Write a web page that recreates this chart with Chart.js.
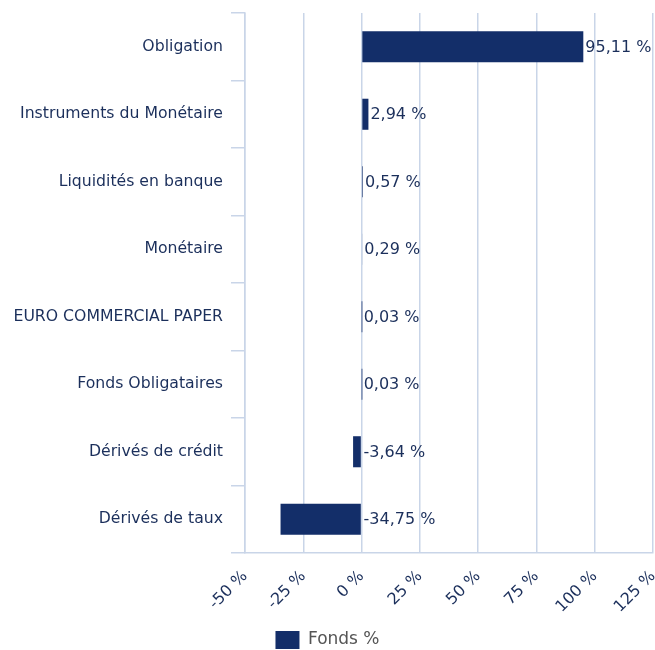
<!DOCTYPE html>
<html>
<head>
<meta charset="utf-8">
<script src="https://cdn.jsdelivr.net/npm/chart.js@4"></script>
<style>
  html, body { margin: 0; padding: 0; background: #ffffff; }
  #wrap { width: 655px; height: 650px; position: relative; }
</style>
</head>
<body>
<div id="wrap"><canvas id="c" width="655" height="650"></canvas></div>
<script>
const categories = ["Obligation", "Instruments du Monétaire", "Liquidités en banque", "Monétaire", "EURO COMMERCIAL PAPER", "Fonds Obligataires", "Dérivés de crédit", "Dérivés de taux"];
const fondsValues = [95.11, 2.94, 0.57, 0.29, 0.03, 0.03, -3.64, -34.75];
const seriesName = "Fonds %";
const xMin = -50, xMax = 125, xStep = 25;

const NAVY = "#132e69";
const TEXT = "#1b2f5b";
const GRID = "#c9d5e8";
const FONT = "'DejaVu Sans', Verdana, sans-serif";

function fmt(v) { return v.toFixed(2).replace('.', ',') + ' %'; }

const valueLabels = {
  id: 'valueLabels',
  afterDatasetsDraw(chart) {
    const ctx = chart.ctx;
    const meta = chart.getDatasetMeta(0);
    const xs = chart.scales.x;
    const zero = xs.getPixelForValue(0);
    ctx.save();
    ctx.font = "16px " + FONT;
    ctx.fillStyle = TEXT;
    ctx.textAlign = 'left';
    ctx.textBaseline = 'middle';
    meta.data.forEach((bar, i) => {
      const v = chart.data.datasets[0].data[i];
      const x = Math.max(bar.x, zero) + 2;
      ctx.fillText(fmt(v), x, bar.y + 1);
    });
    ctx.restore();
  }
};

new Chart(document.getElementById('c'), {
  type: 'bar',
  data: {
    labels: categories,
    datasets: [{
      label: seriesName,
      data: fondsValues,
      backgroundColor: NAVY,
      borderWidth: 0,
      barPercentage: 0.46,
      categoryPercentage: 1.0
    }]
  },
  options: {
    indexAxis: 'y',
    responsive: false,
    animation: false,
    devicePixelRatio: 1,
    layout: { padding: { top: 13, right: 2, left: 2, bottom: -9 } },
    plugins: {
      tooltip: { enabled: false },
      legend: {
        position: 'bottom',
        labels: {
          boxWidth: 24,
          boxHeight: 18,
          color: '#555555',
          font: { family: FONT, size: 17 },
          padding: 0
        }
      }
    },
    scales: {
      x: {
        min: xMin, max: xMax,
        ticks: {
          stepSize: xStep,
          color: TEXT,
          font: { family: FONT, size: 16 },
          minRotation: 45, maxRotation: 45,
          padding: 14,
          callback: v => v + ' %'
        },
        grid: { color: GRID, lineWidth: 1.5, drawTicks: false },
        border: { color: GRID, width: 1.5 },
        afterFit(scale) { scale.height = 78; scale.paddingLeft = 0; scale.paddingRight = 0; }
      },
      y: {
        ticks: {
          color: TEXT,
          font: { family: FONT, size: 15.7 },
          padding: 8
        },
        grid: { color: GRID, lineWidth: 1.5, drawOnChartArea: false, drawTicks: true, tickLength: 14, offset: true },
        border: { color: GRID, width: 1.5 },
        afterFit(scale) { scale.width = 243; scale.paddingTop = 0; scale.paddingBottom = 0; }
      }
    }
  },
  plugins: [valueLabels]
});
</script>
</body>
</html>
